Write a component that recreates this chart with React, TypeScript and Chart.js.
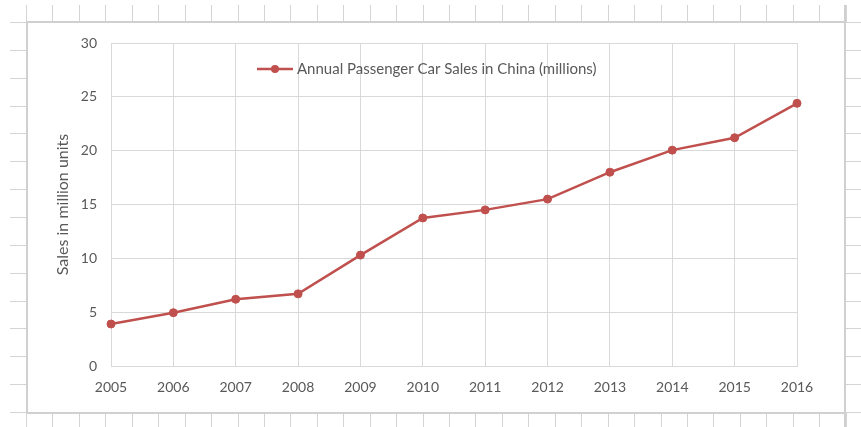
import React, { useEffect, useRef } from "react";
import { Chart, registerables } from "chart.js";

Chart.register(...registerables);

const years = ["2005", "2006", "2007", "2008", "2009", "2010", "2011", "2012", "2013", "2014", "2015", "2016"];
const sales = [3.9, 4.95, 6.2, 6.7, 10.3, 13.75, 14.5, 15.5, 18.0, 20.05, 21.2, 24.4];
const seriesLabel = "Annual Passenger Car Sales in China (millions)";
const yTitle = "Sales in million units";

const FONT = "Lato, 'Open Sans', sans-serif";
const TEXT = "#595959";
const RED = "#c0504d";
const GRID = "#d9d9d9";
const SHEET = "#d4d4d4";

const sheetPlugin = {
  id: "sheetBackground",
  beforeDraw(chart: any) {
    const ctx = chart.ctx;
    const W = chart.width;
    const H = chart.height;
    ctx.save();
    ctx.fillStyle = "#ffffff";
    ctx.fillRect(0, 0, W, H);
    ctx.strokeStyle = SHEET;
    ctx.lineWidth = 1;
    const left = 27, right = 845, top = 22, bottom = 413;
    const colW = (845.6 - 26) / 31;
    for (let k = 0; k <= 31; k++) {
      const x = Math.round(26 + k * colW) + 0.5;
      ctx.beginPath();
      ctx.moveTo(x, 5);
      ctx.lineTo(x, top);
      ctx.moveTo(x, bottom);
      ctx.lineTo(x, H);
      ctx.stroke();
    }
    const rowH = (412 - 22) / 14;
    for (let k = 0; k <= 15; k++) {
      const y = Math.round(22 + k * rowH) + 0.5;
      if (y > H) break;
      ctx.beginPath();
      ctx.moveTo(10, y);
      ctx.lineTo(left, y);
      ctx.moveTo(right, y);
      ctx.lineTo(W, y);
      ctx.stroke();
    }
    ctx.fillStyle = "#ffffff";
    ctx.fillRect(left, top, right - left, bottom - top);
    ctx.strokeStyle = "#d0d0d0";
    ctx.lineWidth = 2;
    ctx.strokeRect(left, top, right - left, bottom - top);
    ctx.beginPath();
    ctx.moveTo(right, 5);
    ctx.lineTo(right, H);
    ctx.stroke();
    ctx.restore();
  },
};

const legendPlugin = {
  id: "excelLegend",
  afterDraw(chart: any, _args: any, opts: any) {
    const ds = chart.data.datasets[0];
    const ctx = chart.ctx;
    const x = opts.x, y = opts.y, len = opts.lineLength;
    ctx.save();
    ctx.strokeStyle = ds.borderColor;
    ctx.lineWidth = ds.borderWidth;
    ctx.beginPath();
    ctx.moveTo(x, y);
    ctx.lineTo(x + len, y);
    ctx.stroke();
    ctx.fillStyle = ds.pointBackgroundColor;
    ctx.beginPath();
    ctx.arc(x + len / 2, y, ds.pointRadius, 0, Math.PI * 2);
    ctx.fill();
    ctx.fillStyle = TEXT;
    ctx.font = `${opts.fontSize}px ${FONT}`;
    ctx.textBaseline = "middle";
    ctx.textAlign = "left";
    ctx.fillText(ds.label, x + len + 4, y);
    ctx.restore();
  },
};

export default function App() {
  const ref = useRef<HTMLCanvasElement | null>(null);

  useEffect(() => {
    if (!ref.current) return;
    const chart = new Chart(ref.current, {
      type: "line",
      data: {
        labels: years,
        datasets: [
          {
            label: seriesLabel,
            data: sales,
            borderColor: RED,
            backgroundColor: RED,
            pointBackgroundColor: RED,
            pointBorderColor: RED,
            borderWidth: 2.5,
            pointRadius: 4,
            pointBorderWidth: 1,
            tension: 0,
          },
        ],
      },
      options: {
        responsive: false,
        animation: false,
        devicePixelRatio: 1,
        layout: { padding: { left: 0, top: 43, right: 64, bottom: 0 } },
        plugins: {
          legend: { display: false },
          tooltip: { enabled: false },
          excelLegend: { x: 257, y: 69, lineLength: 36, fontSize: 15 },
        } as any,
        scales: {
          x: {
            type: "category",
            offset: false,
            grid: { color: GRID, drawTicks: false, lineWidth: 1 },
            border: { color: GRID, width: 1 },
            ticks: {
              color: TEXT,
              font: { family: FONT, size: 14 },
              padding: 13,
              maxRotation: 0,
              autoSkip: false,
            },
            afterFit(scale: any) {
              scale.height = 427 - 366;
            },
          },
          y: {
            min: 0,
            max: 30,
            grid: { color: GRID, drawTicks: false, lineWidth: 1 },
            border: { color: GRID, width: 1 },
            ticks: {
              stepSize: 5,
              color: TEXT,
              font: { family: FONT, size: 14 },
              padding: 14,
            },
            title: {
              display: true,
              text: yTitle,
              color: TEXT,
              font: { family: FONT, size: 16 },
              padding: { top: 53, bottom: 0 },
            },
            afterFit(scale: any) {
              scale.width = 111;
            },
          },
        },
      },
      plugins: [sheetPlugin, legendPlugin],
    });
    return () => chart.destroy();
  }, []);

  return (
    <div style={{ position: "absolute", left: 0, top: 0, width: 861, height: 427 }}>
      <canvas ref={ref} width={861} height={427} style={{ display: "block" }} />
    </div>
  );
}
